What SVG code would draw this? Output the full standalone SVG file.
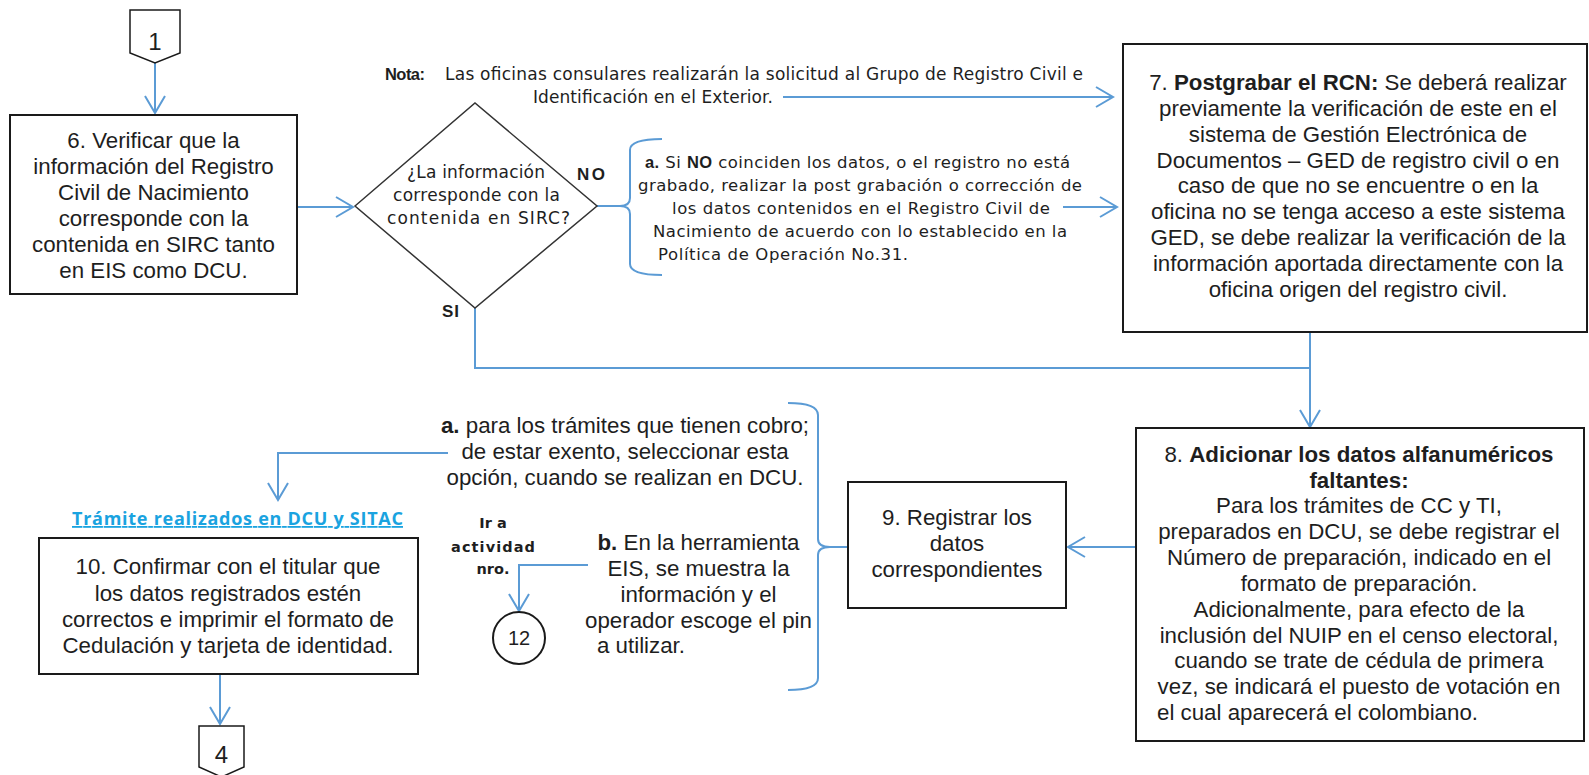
<svg xmlns="http://www.w3.org/2000/svg" width="1589" height="775" viewBox="0 0 1589 775">
<style>
.box{fill:#fff;stroke:#1a1a1a;stroke-width:2}
.t{font-family:"Liberation Sans",Arial,sans-serif;font-size:22.3px;fill:#1e1e1e;text-anchor:middle}
.ts{font-family:"DejaVu Sans",Verdana,sans-serif;font-size:16.5px;fill:#1e1e1e}
.ab{font-family:"Liberation Sans",Arial,sans-serif;font-weight:bold;fill:#1e1e1e}
.b{font-weight:bold}
.c{fill:none;stroke:#5b9bd5;stroke-width:2}
.ca{fill:none;stroke:#5b9bd5;stroke-width:2;marker-end:url(#ah)}
.lbl{font-family:"DejaVu Sans",sans-serif;font-weight:bold;fill:#1e1e1e;font-size:14.5px;text-anchor:middle}
</style>
<defs>
<marker id="ah" markerUnits="userSpaceOnUse" viewBox="-20 -12 22 24" markerWidth="22" markerHeight="24" refX="0" refY="0" orient="auto">
<path d="M-17,-10 L0,0 L-17,10" fill="none" stroke="#5b9bd5" stroke-width="2"/>
</marker>
</defs>
<rect width="1589" height="775" fill="#fff"/>

<g id="connectors">
<path class="ca" d="M155,63 L155,113"/>
<path class="ca" d="M297,207 L353,207"/>
<path class="ca" d="M783,97 L1113,97"/>
<path class="c" d="M597,206 L620,206"/>
<path class="c" d="M662,139 Q630,139 630,150 L630,198 Q630,206 620,206 Q630,206 630,214 L630,264 Q630,275 662,275"/>
<path class="ca" d="M1063,207 L1117,207"/>
<path class="c" d="M475,308 L475,368 L1310,368"/>
<path class="ca" d="M1310,332 L1310,427"/>
<path class="ca" d="M1136,547 L1068,547"/>
<path class="c" d="M848,547 L830,547"/>
<path class="c" d="M788,403 Q818,403 818,415 L818,539 Q818,547 830,547 Q818,547 818,555 L818,678 Q818,690 788,690"/>
<path class="ca" d="M448,453 L278,453 L278,500"/>
<path class="ca" d="M588,565 L519,565 L519,611"/>
<path class="ca" d="M220,674 L220,724"/>
</g>

<g id="offpage-1">
<polygon class="box" points="130,10 180,10 180,53 155,63 130,53" style="stroke-width:1.5"/>
<text x="155" y="50" class="t" style="font-size:24px">1</text>
</g>

<g id="node-6">
<rect class="box" x="10" y="115" width="287" height="179"/>
<text class="t" x="153.5" y="148">6. Verificar que la</text>
<text class="t" x="153.5" y="174">información del Registro</text>
<text class="t" x="153.5" y="200">Civil de Nacimiento</text>
<text class="t" x="153.5" y="226">corresponde con la</text>
<text class="t" x="153.5" y="252">contenida en SIRC tanto</text>
<text class="t" x="153.5" y="278">en EIS como DCU.</text>
</g>

<g id="decision">
<polygon points="355,206 475,103 597,206 475,308" fill="#fff" stroke="#333" stroke-width="1.5"/>
<text class="ts" x="407" y="178" style="font-size:17px" textLength="138">¿La información</text>
<text class="ts" x="393" y="201" style="font-size:17px" textLength="167">corresponde con la</text>
<text class="ts" x="387" y="224" style="font-size:17px" textLength="183">contenida en  SIRC?</text>
<text class="ab" x="577" y="180" style="font-size:17px" textLength="28">NO</text>
<text class="ab" x="442" y="317" style="font-size:17px" textLength="17">SI</text>
</g>

<g id="note">
<text class="ab" x="385" y="80" style="font-size:16.5px" textLength="40">Nota:</text>
<text class="ts" x="445" y="80" style="font-size:17px" textLength="638">Las oficinas consulares realizarán la solicitud al Grupo de Registro Civil e</text>
<text class="ts" x="533" y="103" style="font-size:17px" textLength="240">Identificación en el Exterior.</text>
</g>

<g id="note-no">
<text class="ts" x="645" y="168" textLength="425"><tspan class="ab">a.</tspan> Si <tspan class="ab">NO</tspan> coinciden los datos, o el registro no está</text>
<text class="ts" x="638" y="191" textLength="444">grabado, realizar la post grabación o corrección de</text>
<text class="ts" x="672" y="214" textLength="378">los datos contenidos en el Registro Civil de</text>
<text class="ts" x="653" y="237" textLength="414">Nacimiento de acuerdo con lo establecido en la</text>
<text class="ts" x="658" y="260" textLength="250">Política de Operación No.31.</text>
</g>

<g id="node-7">
<rect class="box" x="1123" y="44" width="464" height="288"/>
<text class="t" x="1358" y="90">7. <tspan class="b">Postgrabar el RCN:</tspan> Se deberá realizar</text>
<text class="t" x="1358" y="116">previamente la verificación de este en el</text>
<text class="t" x="1358" y="142">sistema de Gestión Electrónica de</text>
<text class="t" x="1358" y="168">Documentos – GED de registro civil o en</text>
<text class="t" x="1358" y="193">caso de que no se encuentre o en la</text>
<text class="t" x="1358" y="219">oficina no se tenga acceso a este sistema</text>
<text class="t" x="1358" y="245">GED, se debe realizar la verificación de la</text>
<text class="t" x="1358" y="271">información aportada directamente con la</text>
<text class="t" x="1358" y="297">oficina origen del registro civil.</text>
</g>

<g id="node-8">
<rect class="box" x="1136" y="428" width="448" height="313"/>
<text class="t" x="1359" y="462">8. <tspan class="b">Adicionar los datos alfanuméricos</tspan></text>
<text class="t b" x="1359" y="488">faltantes:</text>
<text class="t" x="1359" y="513">Para los trámites de CC y TI,</text>
<text class="t" x="1359" y="539">preparados en DCU, se debe registrar el</text>
<text class="t" x="1359" y="565">Número de preparación, indicado en el</text>
<text class="t" x="1359" y="591">formato de preparación.</text>
<text class="t" x="1359" y="617">Adicionalmente, para efecto de la</text>
<text class="t" x="1359" y="643">inclusión del NUIP en el censo electoral,</text>
<text class="t" x="1359" y="668">cuando se trate de cédula de primera</text>
<text class="t" x="1359" y="694">vez, se indicará el puesto de votación en</text>
<text class="t" x="1157" y="720" style="text-anchor:start">el cual aparecerá el colombiano.</text>
</g>

<g id="node-9">
<rect class="box" x="848" y="482" width="218" height="126"/>
<text class="t" x="957" y="525">9. Registrar los</text>
<text class="t" x="957" y="551">datos</text>
<text class="t" x="957" y="577">correspondientes</text>
</g>

<g id="option-a">
<text class="t" x="625" y="433"><tspan class="b">a.</tspan> para los trámites que tienen cobro;</text>
<text class="t" x="625" y="459">de estar exento, seleccionar esta</text>
<text class="t" x="625" y="485">opción, cuando se realizan en DCU.</text>
</g>

<g id="option-b">
<text class="t" x="698.5" y="550"><tspan class="b">b.</tspan> En la herramienta</text>
<text class="t" x="698.5" y="576">EIS, se muestra la</text>
<text class="t" x="698.5" y="602">información y el</text>
<text class="t" x="698.5" y="628">operador escoge el pin</text>
<text class="t" x="597" y="653" style="text-anchor:start">a utilizar.</text>
</g>

<g id="goto-label">
<text class="lbl" x="493" y="528">Ir a</text>
<text class="lbl" x="451" y="552" style="text-anchor:start" textLength="84">actividad</text>
<text class="lbl" x="493" y="574">nro.</text>
</g>

<g id="connector-12">
<circle cx="519" cy="638" r="26" fill="#fff" stroke="#1a1a1a" stroke-width="2"/>
<text class="t" x="519" y="645" style="font-size:20px">12</text>
</g>

<g id="section-label">
<text x="72" y="525" textLength="331" style="font-family:'Open Sans',sans-serif;font-weight:bold;font-size:18px;fill:#1aa3e0;text-decoration:underline">Trámite realizados en DCU y SITAC</text>
</g>

<g id="node-10">
<rect class="box" x="39" y="538" width="379" height="136"/>
<text class="t" x="228" y="574">10. Confirmar con el titular que</text>
<text class="t" x="228" y="601">los datos registrados estén</text>
<text class="t" x="228" y="627">correctos e imprimir el formato de</text>
<text class="t" x="228" y="653">Cedulación y tarjeta de identidad.</text>
</g>

<g id="offpage-4">
<polygon class="box" points="199,726 244,726 244,767 221.5,777 199,767" style="stroke-width:1.5"/>
<text class="t" x="221.5" y="763" style="font-size:24px">4</text>
</g>
</svg>
